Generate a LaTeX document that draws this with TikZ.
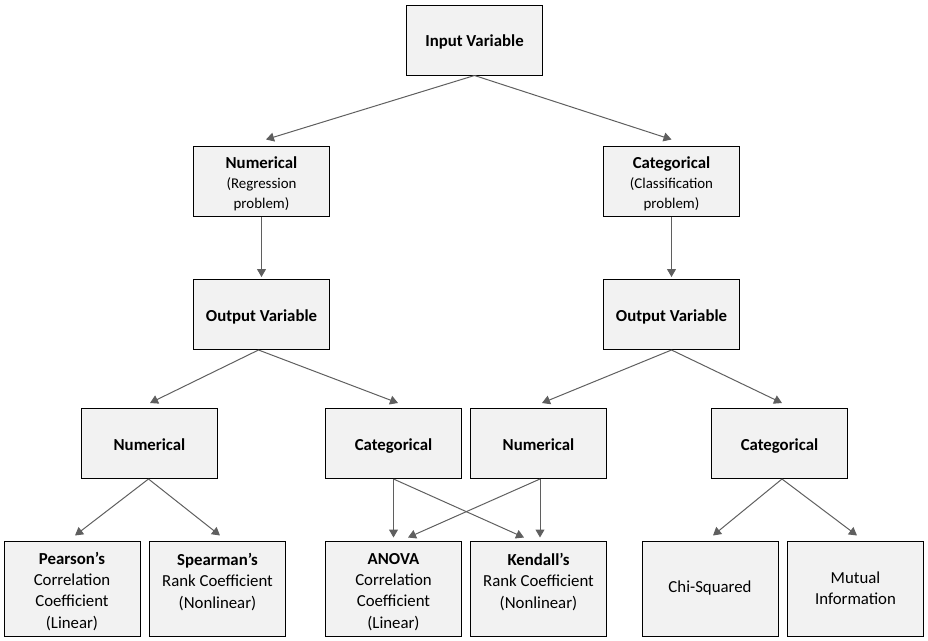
\documentclass[tikz,border=0pt]{standalone}
\usepackage{fontspec}
\setmainfont{Carlito}
\usetikzlibrary{arrows.meta}
\definecolor{boxfill}{HTML}{F2F2F2}
\definecolor{arrowgray}{HTML}{5F5F5F}
\tikzset{
  box/.style={draw=black, line width=1pt, fill=boxfill, minimum width=136pt, minimum height=70pt,
    align=center, inner sep=0pt, font=\bfseries\fontsize{16.8}{20}\selectfont},
  onebox/.style={box, text height=14pt, text depth=1pt},
  tallbox/.style={box, minimum height=95pt, font=\fontsize{16.8}{21.3}\selectfont},
  arr/.style={draw=arrowgray, line width=1pt, -{Triangle[length=8pt,width=9pt]}},
}
\newcommand{\subf}{\mdseries\fontsize{14.9}{17}\selectfont}
\newcommand{\toppad}{\rule{0pt}{18pt}}
\begin{document}
\begin{tikzpicture}[x=1pt,y=-1pt]
\useasboundingbox (0,0) rectangle (928,640);
% row 0
\node[onebox] (in) at (474.5,40) {Input Variable};
% row 1
\node[box] (num1) at (261.5,181) {\toppad Numerical\\[0pt]\subf(Regression\\[0pt]\subf problem)};
\node[box] (cat1) at (671.5,181) {\toppad Categorical\\[0pt]\subf(Classification\\[0pt]\subf problem)};
% row 2
\node[onebox] (out1) at (261.5,314.5) {Output Variable};
\node[onebox] (out2) at (671.5,314.5) {Output Variable};
% row 3
\node[onebox] (n3a) at (149.5,443.5) {Numerical};
\node[onebox] (c3b) at (393.5,443.5) {Categorical};
\node[onebox] (n3c) at (538.5,443.5) {Numerical};
\node[onebox] (c3d) at (779.5,443.5) {Categorical};
% row 4
\node[tallbox] (pear) at (72,588.5) {\toppad\textbf{Pearson’s}\\Correlation\\Coefficient\\(Linear)};
\node[tallbox] (spear) at (217.5,588.5) {\toppad\textbf{Spearman’s}\\Rank Coefficient\\(Nonlinear)\\\vphantom{X}};
\node[tallbox] (anova) at (393.5,588.5) {\toppad\textbf{ANOVA}\\Correlation\\Coefficient\\(Linear)};
\node[tallbox] (kend) at (538.5,588.5) {\toppad\textbf{Kendall’s}\\Rank Coefficient\\(Nonlinear)\\\vphantom{X}};
\node[tallbox] (chi) at (710,588.5) {Chi-Squared};
\node[tallbox] (mut) at (855.5,588.5) {Mutual\\Information};
% connectors
\draw[arr] (in.south) -- ([xshift=4.5pt,yshift=6pt]num1.north);
\draw[arr] (in.south) -- ([yshift=6pt]cat1.north);
\draw[arr] (num1.south) -- ([yshift=2pt]out1.north);
\draw[arr] (cat1.south) -- ([yshift=2pt]out2.north);
\draw[arr] ([xshift=-3pt]out1.south) -- ([xshift=0.5pt,yshift=5pt]n3a.north);
\draw[arr] ([xshift=-3pt]out1.south) -- ([xshift=4.5pt,yshift=5pt]c3b.north);
\draw[arr] (out2.south) -- ([xshift=3.5pt,yshift=5pt]n3c.north);
\draw[arr] (out2.south) -- ([xshift=2.5pt,yshift=5pt]c3d.north);
\draw[arr] ([xshift=-1pt]n3a.south) -- ([xshift=3pt,yshift=5pt]pear.north);
\draw[arr] ([xshift=-1pt]n3a.south) -- ([xshift=2.5pt,yshift=5pt]spear.north);
\draw[arr] (c3b.south) -- ([yshift=3pt]anova.north);
\draw[arr] (c3b.south) -- ([xshift=-14.5pt,yshift=3pt]kend.north);
\draw[arr] ([xshift=1.5pt]n3c.south) -- ([xshift=14.5pt,yshift=3pt]anova.north);
\draw[arr] ([xshift=1.5pt]n3c.south) -- ([xshift=1.5pt,yshift=3pt]kend.north);
\draw[arr] ([xshift=2.5pt]c3d.south) -- ([xshift=3pt,yshift=5pt]chi.north);
\draw[arr] ([xshift=2.5pt]c3d.south) -- ([xshift=1.5pt,yshift=5pt]mut.north);
\end{tikzpicture}
\end{document}
